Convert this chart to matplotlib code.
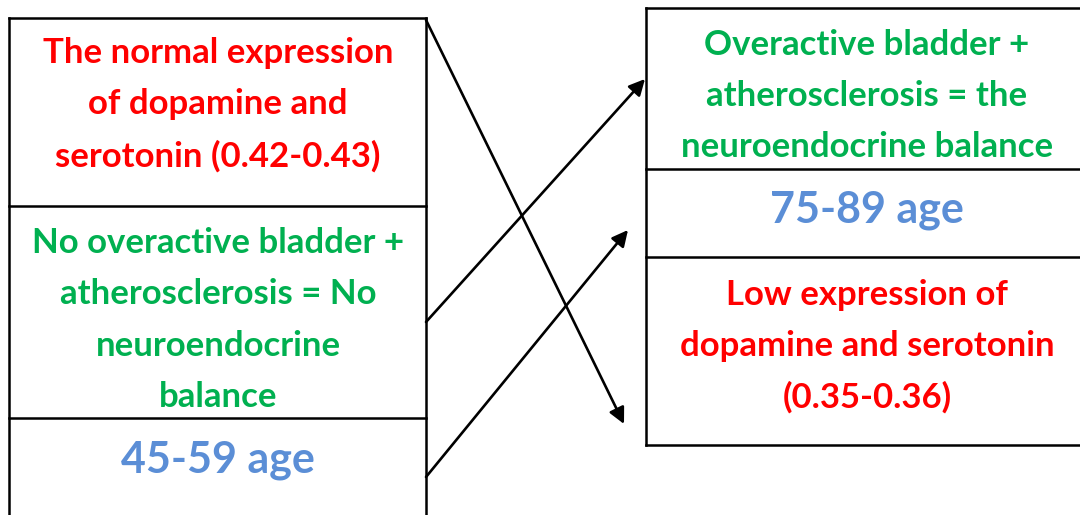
import matplotlib.pyplot as plt

plt.rcParams['font.family'] = ['Lato', 'DejaVu Sans']

red = '#FF0000'
green = '#00B050'
blue = '#5B8ED6'

left_texts = ["The normal expression\nof dopamine and\nserotonin (0.42-0.43)",
              "No overactive bladder +\natherosclerosis = No\nneuroendocrine\nbalance",
              "45-59 age"]
right_texts = ["Overactive bladder +\natherosclerosis = the\nneuroendocrine balance",
               "75-89 age",
               "Low expression of\ndopamine and serotonin\n(0.35-0.36)"]
left_colors = [red, green, blue]
right_colors = [green, blue, red]

# box edges in pixels (y going down)
left_x = (9, 426)
left_rows = [18, 206, 418, 530]
right_x = (646, 1100)
right_rows = [8, 169, 257, 445]
left_text_y = [105, 320, 460]
right_text_y = [96, 210, 346]
# arrows: (start, tip)
arrows = [((426, 20), (624, 424)),
          ((426, 322), (645, 79)),
          ((426, 477), (628, 230))]

fig = plt.figure(figsize=(10.8, 5.15), dpi=100)
ax = fig.add_axes([0, 0, 1, 1])
ax.set_xlim(0, 1080)
ax.set_ylim(515, 0)
ax.axis('off')

lw = 1.8
for x0, x1, rows in [(left_x[0], left_x[1], left_rows), (right_x[0], right_x[1], right_rows)]:
    ax.plot([x0, x0], [rows[0], rows[-1]], color='black', lw=lw)
    ax.plot([x1, x1], [rows[0], rows[-1]], color='black', lw=lw)
    for r in rows:
        ax.plot([x0, x1], [r, r], color='black', lw=lw)

for i, txt in enumerate(left_texts):
    size = 31 if i == 2 else 25
    ax.text(218, left_text_y[i], txt, color=left_colors[i], fontsize=size, fontweight='bold',
            ha='center', va='center', linespacing=1.74)
for i, txt in enumerate(right_texts):
    size = 31 if i == 1 else 25
    ax.text(867, right_text_y[i], txt, color=right_colors[i], fontsize=size, fontweight='bold',
            ha='center', va='center', linespacing=1.72)

for start, tip in arrows:
    ax.annotate('', xy=tip, xytext=start,
                arrowprops=dict(arrowstyle='-|>', color='black', lw=1.9,
                                mutation_scale=24, shrinkA=0, shrinkB=0))

fig.savefig('out.png', dpi=100)
